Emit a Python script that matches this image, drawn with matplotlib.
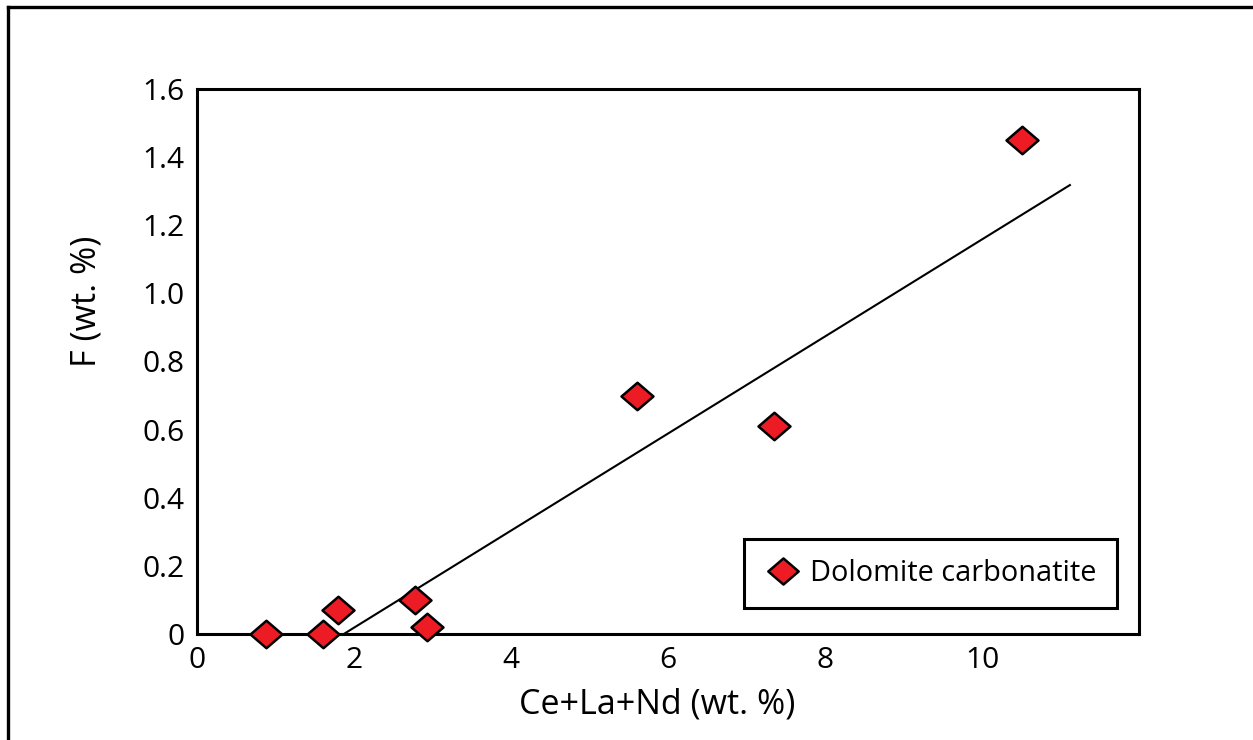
import matplotlib
matplotlib.use('Agg')
import matplotlib.pyplot as plt
from matplotlib.lines import Line2D
from matplotlib.path import Path

# values
ree_total = [0.88, 1.61, 1.80, 2.78, 2.93, 5.61, 7.35, 10.51]
fluorine = [0.00, 0.00, 0.07, 0.10, 0.02, 0.70, 0.61, 1.45]
trend_x = [1.87, 11.12]
trend_y = [0.00, 1.318]
x_ticks = [0, 2, 4, 6, 8, 10]
y_ticks = [0, 0.2, 0.4, 0.6, 0.8, 1.0, 1.2, 1.4, 1.6]
y_tick_labels = ['0', '0.2', '0.4', '0.6', '0.8', '1.0', '1.2', '1.4', '1.6']
series_name = 'Dolomite carbonatite'

plt.rcParams['font.family'] = ['Open Sans', 'DejaVu Sans']

W, H = 1253, 740
fig = plt.figure(figsize=(W / 100, H / 100), dpi=100)
ax = fig.add_axes([197 / W, 1 - 634 / H, (1139 - 197) / W, (634 - 89) / H])

# flattened diamond like the original symbol
diamond = Path([(-1, 0), (0, 0.86), (1, 0), (0, -0.86), (-1, 0)],
               [Path.MOVETO, Path.LINETO, Path.LINETO, Path.LINETO, Path.CLOSEPOLY])

ax.plot(trend_x, trend_y, color='black', lw=1.5, zorder=2)
ax.plot(ree_total, fluorine, linestyle='none', marker=diamond, markersize=23,
        markerfacecolor='#ED1C24', markeredgecolor='black', markeredgewidth=1.8,
        label=series_name, zorder=3, clip_on=False)

ax.set_xlim(0, 12)
ax.set_ylim(0, 1.6)
ax.set_xticks(x_ticks)
ax.set_xticklabels([str(t) for t in x_ticks])
ax.set_yticks(y_ticks)
ax.set_yticklabels(y_tick_labels)
ax.tick_params(length=0, labelsize=21.5, pad=9)

for s in ax.spines.values():
    s.set_linewidth(2.2)

ax.set_xlabel('Ce+La+Nd (wt. %)', fontsize=24.5)
ax.xaxis.set_label_coords(0.489, -0.13)
ax.xaxis.label.set_va('center')
ax.set_ylabel('F (wt. %)', fontsize=24.5)
ax.yaxis.set_label_coords(-0.117, 0.611)
ax.yaxis.label.set_va('center')

leg = ax.legend(loc='lower right', bbox_to_anchor=(0.9766, 0.0477), fontsize=20.8,
                frameon=True, fancybox=False, framealpha=1, edgecolor='black',
                markerscale=0.95, handlelength=1.3, handletextpad=0.3,
                borderpad=0.7, borderaxespad=0)
leg.get_frame().set_linewidth(2.2)

# outer frame (cut off on the right and bottom)
fig.add_artist(Line2D([8 / W, 8 / W], [0, 1 - 7 / H], color='black', lw=2.4))
fig.add_artist(Line2D([8 / W, 1], [1 - 7 / H, 1 - 7 / H], color='black', lw=2.4))

fig.savefig('out.png', dpi=100, facecolor='white')
